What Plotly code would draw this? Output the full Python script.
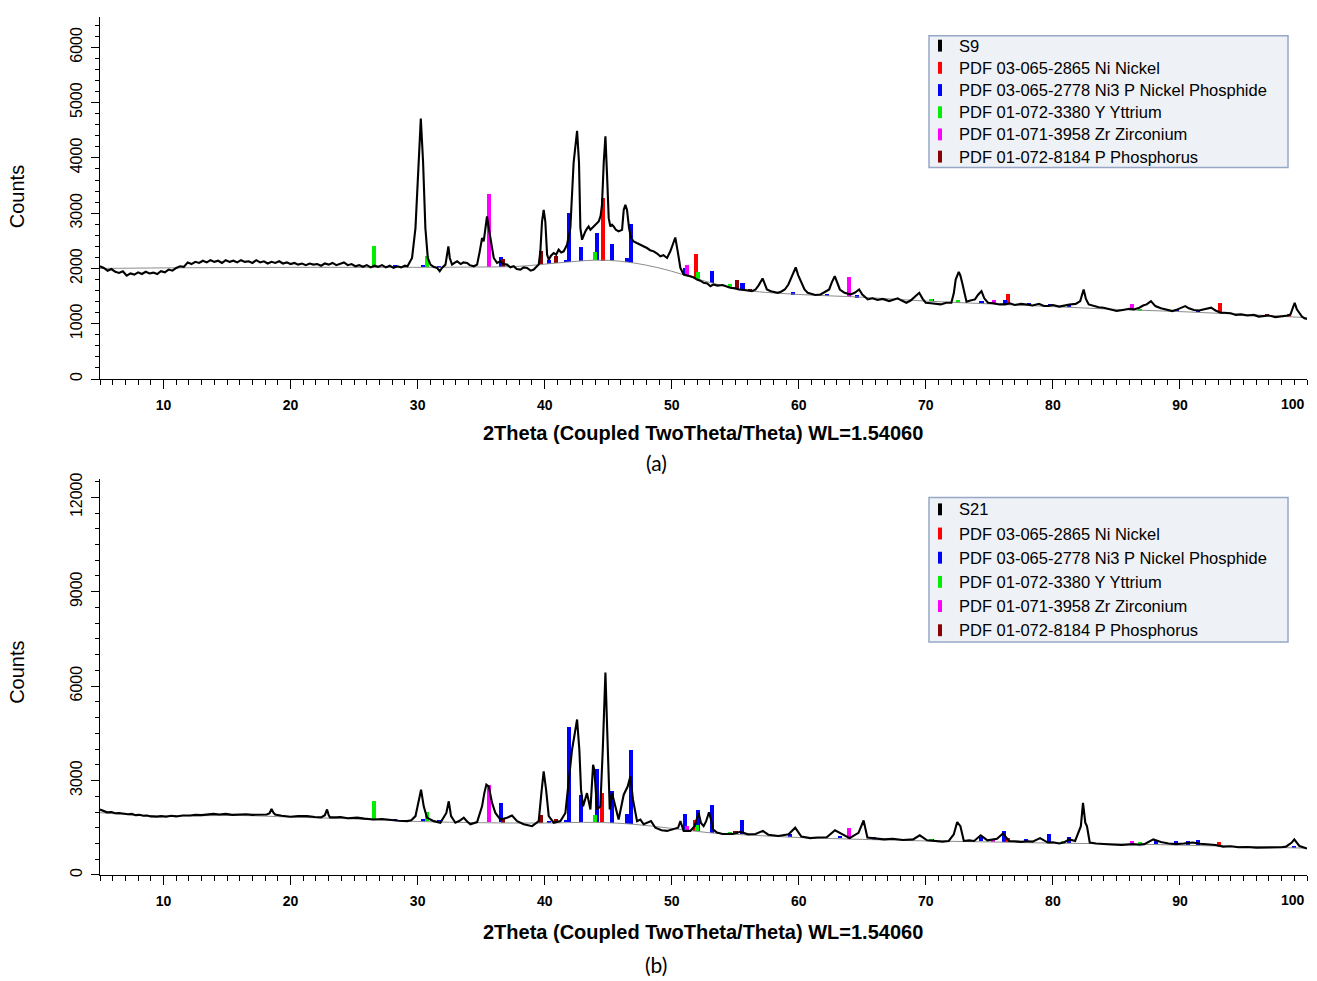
import numpy as np
import plotly.graph_objects as go

W, H = 1317, 981

# ---------------- DATA ----------------
# Panel (a) : S9 diffractogram (2theta, counts)
s9_tt = [5.0, 5.3, 5.6, 5.9, 6.2, 6.5, 6.8, 7.1, 7.4, 7.7, 8.0, 8.3, 8.6, 8.9, 9.2, 9.5, 9.8, 10.1, 10.4, 10.7,
         11.0, 11.3, 11.6, 11.9, 12.2, 12.5, 12.8, 13.1, 13.4, 13.7, 14.0, 14.3, 14.6, 14.9, 15.2, 15.5, 15.8, 16.1,
         16.4, 16.7, 17.0, 17.3, 17.6, 17.9, 18.2, 18.5, 18.8, 19.1, 19.4, 19.7, 20.0, 20.3, 20.6, 20.9, 21.2, 21.5,
         21.8, 22.1, 22.4, 22.7, 23.0, 23.3, 23.6, 23.9, 24.2, 24.5, 24.8, 25.1, 25.4, 25.7, 26.0, 26.3, 26.6, 26.9,
         27.2, 27.5, 27.8, 28.1, 28.4, 28.7, 29.0, 29.2, 29.56, 29.83, 30.09, 30.25, 30.43, 30.61, 30.80, 31.01,
         31.25, 31.53, 31.74, 31.95, 32.19, 32.32, 32.42, 32.53, 32.71, 32.9, 33.11, 33.4, 33.6, 33.89, 34.1, 34.42,
         34.68, 34.89, 35.07, 35.20, 35.36, 35.46, 35.60, 35.73, 35.86, 35.99, 36.25, 36.51, 36.75, 37.04, 37.3,
         37.56, 37.8, 38.09, 38.35, 38.61, 38.9, 39.14, 39.35, 39.53, 39.66, 39.79, 39.92, 40.05, 40.19, 40.32,
         40.5, 40.71, 40.9, 41.10, 41.3, 41.50, 41.76, 42.02, 42.28, 42.55, 42.70, 42.81, 42.94, 43.05, 43.20,
         43.33, 43.46, 43.6, 43.86, 44.05, 44.25, 44.40, 44.51, 44.65, 44.78, 44.91, 45.04, 45.17, 45.3, 45.43,
         45.6, 45.82, 46.09, 46.22, 46.35, 46.48, 46.64, 46.80, 47.00, 47.25, 47.53, 47.8, 48.05, 48.3, 48.58,
         48.85, 49.10, 49.35, 49.63, 49.89, 50.06, 50.15, 50.28, 50.47, 50.68, 50.94, 51.2, 51.46, 51.7, 51.99,
         52.25, 52.51, 52.8, 53.04, 53.27, 53.6, 54.0, 54.28, 54.6, 55.0, 55.30, 55.7, 56.0, 56.31, 56.6, 56.85,
         57.15, 57.35, 57.49, 57.8, 58.05, 58.34, 58.6, 58.9, 59.18, 59.45, 59.76, 59.95, 60.19, 60.45, 60.70,
         61.0, 61.3, 61.71, 62.0, 62.39, 62.6, 62.83, 63.0, 63.23, 63.6, 64.08, 64.4, 64.75, 65.0, 65.43, 65.8,
         66.2, 66.6, 67.12, 67.5, 67.79, 68.1, 68.47, 68.8, 69.1, 69.48, 69.75, 69.99, 70.4, 70.8, 71.17, 71.6,
         72.01, 72.2, 72.35, 72.59, 72.72, 72.86, 73.02, 73.20, 73.5, 73.87, 74.1, 74.38, 74.6, 74.89, 75.3,
         75.8, 76.24, 76.6, 77.0, 77.5, 77.93, 78.4, 78.9, 79.3, 79.61, 80.0, 80.5, 81.0, 81.30, 81.8, 82.15,
         82.42, 82.6, 82.82, 83.2, 83.6, 84.00, 84.5, 85.02, 85.5, 86.0, 86.37, 86.8, 87.1, 87.38, 87.72, 88.06,
         88.5, 89.0, 89.41, 89.8, 90.1, 90.42, 90.7, 91.10, 91.5, 92.0, 92.45, 92.8, 93.2, 93.46, 94.0, 94.4,
         94.81, 95.3, 95.8, 96.2, 96.50, 97.0, 97.5, 98.0, 98.19, 98.50, 98.70, 98.85, 99.03, 99.2, 99.37, 99.6,
         99.8, 100.0]
s9_counts = [2040, 2010, 1960, 1990, 1940, 1920, 1950, 1870, 1910, 1890, 1930, 1900, 1940, 1910, 1925, 1900, 1950,
             1930, 1980, 1960, 2010, 2040, 2030, 2110, 2080, 2120, 2100, 2140, 2110, 2150, 2120, 2140, 2100, 2150,
             2120, 2140, 2110, 2150, 2120, 2130, 2100, 2150, 2110, 2130, 2090, 2120, 2100, 2130, 2090, 2110, 2080,
             2100, 2070, 2090, 2060, 2090, 2070, 2080, 2050, 2090, 2070, 2100, 2060, 2090, 2110, 2060, 2080, 2040,
             2060, 2030, 2060, 2020, 2050, 2030, 2060, 2020, 2050, 2010, 2040, 2020, 2050, 2040, 2190, 2730, 3920,
             4710, 3920, 2730, 2190, 2070, 2030, 2010, 1950, 2020, 2070, 2250, 2400, 2190, 2070, 2100, 2130, 2080,
             2110, 2100, 2060, 2040, 2070, 2310, 2550, 2490, 2730, 2940, 2730, 2550, 2370, 2190, 2100, 2130, 2080,
             2070, 2020, 2040, 1990, 1980, 2020, 2010, 1960, 1980, 2030, 2070, 2310, 2850, 3060, 2850, 2250, 2160,
             2230, 2280, 2250, 2340, 2290, 2310, 2430, 2730, 3920, 4490, 3920, 2730, 2520, 2600, 2670, 2720, 2760,
             2700, 2760, 2790, 2850, 2950, 3150, 3920, 4390, 3680, 2910, 2760, 2790, 2760, 2700, 2670, 2700, 3060,
             3150, 3060, 2730, 2550, 2490, 2460, 2430, 2400, 2370, 2330, 2310, 2270, 2220, 2240, 2190, 2310, 2430,
             2490, 2560, 2310, 2010, 1890, 1880, 1860, 1840, 1800, 1780, 1740, 1730, 1680, 1710, 1690, 1700, 1680,
             1650, 1640, 1620, 1610, 1600, 1590, 1620, 1700, 1820, 1700, 1620, 1590, 1570, 1560, 1580, 1620, 1710,
             1850, 2020, 1880, 1740, 1620, 1560, 1540, 1520, 1530, 1570, 1620, 1750, 1860, 1760, 1620, 1560, 1530,
             1560, 1620, 1530, 1440, 1460, 1430, 1450, 1410, 1440, 1460, 1420, 1380, 1420, 1480, 1560, 1450, 1380,
             1370, 1360, 1350, 1380, 1380, 1550, 1800, 1940, 1870, 1740, 1550, 1400, 1420, 1440, 1520, 1590, 1460,
             1380, 1370, 1350, 1350, 1370, 1340, 1360, 1350, 1330, 1360, 1320, 1320, 1340, 1310, 1340, 1350, 1360,
             1410, 1620, 1450, 1350, 1320, 1300, 1290, 1260, 1230, 1250, 1270, 1260, 1290, 1330, 1350, 1410, 1320,
             1280, 1250, 1230, 1260, 1290, 1320, 1280, 1250, 1240, 1260, 1290, 1240, 1200, 1200, 1190, 1160, 1170,
             1150, 1160, 1130, 1140, 1150, 1120, 1130, 1140, 1150, 1170, 1280, 1380, 1260, 1200, 1130, 1100, 1085]
s9_bg_tt = [5, 10, 20, 28, 34, 38, 41, 44, 46, 48, 50, 52, 54, 56, 60, 65, 70, 75, 80, 85, 90, 95, 100]
s9_bg_counts = [2000, 2010, 2020, 2020, 2025, 2040, 2100, 2150, 2130, 2060, 1950, 1810, 1690, 1600, 1530, 1480,
                1410, 1360, 1310, 1260, 1220, 1170, 1110]

# Panel (b) : S21 diffractogram
s21_tt = [5.0, 5.3, 5.56, 5.9, 6.2, 6.5, 6.87, 7.2, 7.5, 7.8, 8.1, 8.4, 8.7, 9.0, 9.5, 9.8, 10.2, 10.6, 11.0, 11.5,
          12.1, 12.5, 13.0, 13.5, 13.93, 14.4, 14.9, 15.4, 16.03, 16.5, 17.0, 17.6, 18.13, 18.35, 18.5, 18.65,
          18.78, 19.3, 19.99, 20.6, 21.3, 21.9, 22.4, 22.7, 22.87, 23.0, 23.1, 23.6, 23.93, 24.5, 25.24, 25.8,
          26.55, 27.2, 27.86, 28.5, 29.17, 29.5, 29.83, 30.09, 30.27, 30.48, 30.74, 31.27, 31.79, 32.26, 32.45,
          32.63, 32.97, 33.3, 33.63, 33.9, 34.15, 34.68, 35.07, 35.25, 35.41, 35.60, 35.86, 36.12, 36.51, 37.04,
          37.43, 37.83, 38.35, 39.01, 39.53, 39.74, 39.92, 40.11, 40.32, 40.71, 41.24, 41.63, 41.89, 42.15, 42.55,
          42.73, 42.86, 43.02, 43.33, 43.60, 43.81, 43.91, 44.12, 44.38, 44.57, 44.78, 44.93, 45.12, 45.30, 45.48,
          45.82, 46.22, 46.53, 46.74, 46.95, 47.27, 47.53, 47.79, 48.37, 48.71, 49.2, 49.63, 50.15, 50.5, 50.68,
          50.94, 51.46, 51.8, 52.12, 52.30, 52.51, 52.70, 52.93, 53.1, 53.25, 53.56, 54.0, 54.35, 54.8, 55.40,
          56.0, 56.6, 57.17, 57.6, 58.4, 59.2, 59.72, 60.2, 60.9, 61.5, 62.2, 62.85, 63.4, 64.0, 64.7, 65.1, 65.4,
          66.0, 66.7, 67.4, 68.2, 69.0, 69.52, 70.1, 70.7, 71.3, 71.8, 72.2, 72.47, 72.72, 72.99, 73.4, 73.8,
          74.32, 74.85, 75.2, 75.6, 76.07, 76.55, 77.0, 77.5, 78.0, 78.4, 78.99, 79.6, 80.0, 80.5, 80.9, 81.3,
          81.75, 82.2, 82.37, 82.55, 82.68, 82.9, 83.4, 83.9, 84.6, 85.4, 85.9, 86.3, 86.8, 87.2, 87.9, 88.5,
          89.1, 89.7, 90.3, 91.0, 91.6, 92.2, 92.8, 93.4, 94.0, 94.6, 95.3, 96.0, 96.8, 97.5, 98.0, 98.35, 98.8,
          99.0, 99.4, 99.7, 100.0]
s21_counts = [2080, 2040, 1990, 2000, 1960, 1970, 1950, 1930, 1940, 1900, 1910, 1880, 1890, 1860, 1850, 1870, 1850,
              1880, 1860, 1890, 1890, 1910, 1900, 1930, 1940, 1920, 1940, 1910, 1920, 1930, 1910, 1920, 1920, 1960,
              2100, 1980, 1920, 1880, 1850, 1870, 1870, 1840, 1830, 1900, 2080, 1900, 1830, 1830, 1840, 1800, 1820,
              1790, 1760, 1780, 1740, 1720, 1710, 1740, 1870, 2390, 2710, 2180, 1820, 1710, 1660, 1970, 2340, 1870,
              1660, 1720, 1820, 1700, 1610, 1680, 2180, 2600, 2870, 2810, 2290, 1970, 1760, 1820, 1890, 1710, 1610,
              1550, 1710, 2600, 3290, 2710, 1870, 1660, 1710, 1970, 2920, 3970, 4940, 3970, 2710, 2180, 2600, 2080,
              3500, 3340, 2080, 2180, 3970, 6430, 4490, 2080, 2600, 2290, 1760, 2550, 2810, 3130, 2390, 1710, 1760,
              1610, 1710, 1500, 1420, 1400, 1450, 1500, 1710, 1400, 1400, 1550, 1970, 1650, 1550, 1700, 1990, 1750,
              1450, 1350, 1300, 1310, 1300, 1370, 1290, 1300, 1400, 1280, 1240, 1290, 1500, 1220, 1170, 1190, 1200,
              1420, 1290, 1170, 1340, 1730, 1190, 1160, 1130, 1150, 1110, 1130, 1260, 1100, 1090, 1060, 1080, 1290,
              1680, 1550, 1080, 1100, 1080, 1260, 1100, 1120, 1150, 1320, 1080, 1070, 1050, 1070, 1060, 1170, 1030,
              1040, 1000, 1040, 1130, 1080, 1550, 2290, 1660, 1550, 1030, 1000, 980, 970, 950, 970, 980, 960, 980,
              1130, 1050, 1000, 980, 1000, 1030, 990, 980, 950, 900, 910, 880, 890, 870, 870, 880, 880, 900, 1030,
              1130, 920, 880, 840]
s21_bg_tt = [5, 8, 12, 16, 20, 25, 30, 35, 40, 44, 47, 50, 53, 56, 60, 65, 70, 75, 80, 85, 90, 95, 100]
s21_bg_counts = [1980, 1900, 1880, 1890, 1840, 1780, 1700, 1660, 1650, 1670, 1610, 1480, 1340, 1270, 1190, 1130,
                 1080, 1050, 1010, 990, 950, 900, 850]

# Reference patterns (stick positions in 2theta and stick heights above background)
phase_names = ["PDF 03-065-2865 Ni Nickel", "PDF 03-065-2778 Ni3 P Nickel Phosphide",
               "PDF 01-072-3380 Y Yttrium", "PDF 01-071-3958 Zr Zirconium", "PDF 01-072-8184 P Phosphorus"]
phase_colors = ["#ff0000", "#0000ff", "#00ee00", "#ff00ff", "#8b0000"]

a_ni_tt = [44.57, 51.91, 76.47, 93.12, 98.6]
a_ni_h = [1130, 450, 190, 180, 50]
a_ni3p_tt = [28.25, 30.43, 31.71, 36.54, 40.32, 41.68, 41.94, 42.89, 44.15, 45.33, 46.51, 46.80, 51.02, 52.09,
             53.17, 55.57, 59.52, 62.22, 64.58, 70.50, 74.38, 76.24, 78.1, 79.78, 81.3, 89.75, 91.43]
a_ni3p_h = [40, 40, 30, 170, 70, 40, 890, 260, 500, 300, 80, 700, 140, 130, 225, 120, 30, 30, 30, 40, 40, 90, 40,
            40, 40, 40, 40]
a_y_tt = [26.55, 30.74, 43.99, 52.04, 54.55, 70.4, 72.52, 80.8, 86.87]
a_y_h = [390, 200, 145, 130, 50, 40, 40, 40, 30]
a_zr_tt = [35.65, 51.20, 63.98, 75.39, 86.2]
a_zr_h = [1320, 190, 350, 70, 100]
a_p_tt = [36.72, 39.71, 40.92, 55.13, 56.14, 96.84]
a_p_h = [140, 245, 130, 150, 40, 30]

b_ni_tt = [44.54, 51.86, 76.44, 93.06]
b_ni_h = [940, 340, 130, 120]
b_ni3p_tt = [28.25, 30.43, 31.7, 36.57, 40.34, 41.65, 41.94, 42.89, 44.15, 45.33, 46.51, 46.80, 51.02, 52.1, 53.17,
             55.54, 59.32, 63.22, 65.93, 67.15, 70.45, 74.37, 76.16, 77.85, 79.69, 81.29, 88.14, 89.68, 90.67,
             91.43, 98.96]
b_ni3p_h = [50, 60, 40, 620, 60, 70, 3020, 870, 1700, 1000, 300, 2340, 500, 670, 880, 460, 100, 70, 60, 60, 50, 150,
            350, 100, 280, 190, 130, 120, 120, 150, 50]
b_y_tt = [26.55, 30.74, 43.93, 52.0, 54.55, 70.38, 80.83, 86.82]
b_y_h = [600, 290, 210, 200, 60, 50, 60, 50]
b_zr_tt = [35.65, 51.20, 63.93, 75.3, 86.21]
b_zr_h = [1200, 120, 350, 100, 100]
b_p_tt = [36.72, 39.71, 40.92, 55.02]
b_p_h = [140, 230, 100, 80]

x_ticks = [10, 20, 30, 40, 50, 60, 70, 80, 90]
a_y_ticks = [0, 1000, 2000, 3000, 4000, 5000, 6000]
b_y_ticks = [0, 3000, 6000, 9000, 12000]
x_title = "2Theta (Coupled TwoTheta/Theta) WL=1.54060"

# ---------------- FIGURE ----------------
def px(x):
    return x / W

def py(y):
    return 1 - y / H

fig = go.Figure()

panels = [
    dict(xa="x", ya="y", tt=s9_tt, c=s9_counts, bgt=s9_bg_tt, bgc=s9_bg_counts, name="S9",
         sticks=[(a_ni_tt, a_ni_h), (a_ni3p_tt, a_ni3p_h), (a_y_tt, a_y_h), (a_zr_tt, a_zr_h), (a_p_tt, a_p_h)]),
    dict(xa="x2", ya="y2", tt=s21_tt, c=s21_counts, bgt=s21_bg_tt, bgc=s21_bg_counts, name="S21",
         sticks=[(b_ni_tt, b_ni_h), (b_ni3p_tt, b_ni3p_h), (b_y_tt, b_y_h), (b_zr_tt, b_zr_h), (b_p_tt, b_p_h)]),
]

for p in panels:
    fig.add_trace(go.Scatter(x=p["bgt"], y=p["bgc"], mode="lines", line=dict(color="#8c8c8c", width=1, shape="spline"),
                             xaxis=p["xa"], yaxis=p["ya"], showlegend=False, hoverinfo="skip"))
    fig.add_trace(go.Scatter(x=p["tt"], y=p["c"], mode="lines", line=dict(color="black", width=2.1),
                             xaxis=p["xa"], yaxis=p["ya"], showlegend=False))
    for (tt, hh), col in zip(p["sticks"], phase_colors):
        base = np.interp(tt, p["bgt"], p["bgc"])
        fig.add_trace(go.Bar(x=tt, y=hh, base=base, width=0.32, marker=dict(color=col, line=dict(width=0)),
                             xaxis=p["xa"], yaxis=p["ya"], showlegend=False))

tick_font = dict(family="Liberation Sans, Arial, sans-serif", size=14, color="black", weight="bold")
ytick_font = dict(family="Liberation Sans, Arial, sans-serif", size=16, color="black")
xcommon = dict(range=[5, 100], tickvals=x_ticks, ticks="outside", ticklen=9, tickcolor="black", tickwidth=1,
               showline=True, linecolor="black", linewidth=1, showgrid=False, zeroline=False,
               tickfont=tick_font, ticklabelstandoff=4,
               minor=dict(dtick=1, tick0=0, ticks="outside", ticklen=5, tickcolor="black", tickwidth=1, showgrid=False))
ycommon = dict(ticks="outside", ticklen=8, tickcolor="black", tickwidth=1, tickangle=-90, tickformat="d",
               showline=True, linecolor="black", linewidth=1, showgrid=False, zeroline=False, tickfont=ytick_font,
               ticklabelstandoff=3)

fig.update_layout(
    width=W, height=H, margin=dict(l=0, r=0, t=0, b=0),
    paper_bgcolor="white", plot_bgcolor="white", barmode="overlay", bargap=0,
    xaxis=dict(domain=[px(100), px(1307)], anchor="y", **xcommon),
    yaxis=dict(domain=[py(375.5), py(10)], anchor="x", range=[0, 6550], tickvals=a_y_ticks,
               minor=dict(dtick=200, ticks="outside", ticklen=4, tickcolor="black", showgrid=False), **ycommon),
    xaxis2=dict(domain=[px(100), px(1307)], anchor="y2", **xcommon),
    yaxis2=dict(domain=[py(876), py(476.7)], anchor="x2", range=[0, 12570], tickvals=b_y_ticks,
                minor=dict(dtick=500, ticks="outside", ticklen=4, tickcolor="black", showgrid=False), **ycommon),
    showlegend=False,
)

ann = []
shapes = []
for i, (ax, ya_name, title_y, counts_y, cap_y, cap, leg_top, leg_bot, row_y, row_dy) in enumerate([
        ("x", "y", 430, 192, 460, "(a)", 29, 162, 39, 22.4),
        ("x2", "y2", 934, 672, 966, "(b)", 495, 641, 507, 24.4)]):
    # "100" tick label kept inside the figure
    ann.append(dict(x=100, y=0, xref=ax, yref=ya_name, text="100", showarrow=False, xanchor="right",
                    yanchor="top", yshift=-15, font=tick_font))
    ann.append(dict(x=px(703), y=py(title_y), xref="paper", yref="paper", text=x_title, showarrow=False,
                    xanchor="center", yanchor="middle",
                    font=dict(family="Liberation Sans, Arial, sans-serif", size=20, color="black", weight="bold")))
    ann.append(dict(x=px(17), y=py(counts_y), xref="paper", yref="paper", text="Counts", showarrow=False,
                    textangle=-90, xanchor="center", yanchor="middle",
                    font=dict(family="Liberation Sans, Arial, sans-serif", size=20, color="black")))
    ann.append(dict(x=px(656), y=py(cap_y), xref="paper", yref="paper", text=cap, showarrow=False,
                    xanchor="center", yanchor="middle",
                    font=dict(family="Lato, Calibri, sans-serif", size=21, color="black")))
    # legend box
    shapes.append(dict(type="rect", xref="paper", yref="paper", x0=px(929), x1=px(1288), y0=py(leg_bot),
                       y1=py(leg_top), fillcolor="#eef1f6", line=dict(color="#97a8c6", width=1.5), layer="above"))
    names = [panels[i]["name"]] + phase_names
    colors = ["black"] + phase_colors
    for k, (nm, col) in enumerate(zip(names, colors)):
        yc = row_y + k * row_dy
        shapes.append(dict(type="rect", xref="paper", yref="paper", x0=px(938), x1=px(942), y0=py(yc + 6),
                           y1=py(yc - 6), fillcolor=col, line=dict(width=0), layer="above"))
        ann.append(dict(x=px(957), y=py(yc), xref="paper", yref="paper", text=nm, showarrow=False,
                        xanchor="left", yanchor="middle",
                        font=dict(family="Liberation Sans, Arial, sans-serif", size=16.5, color="black")))

fig.update_layout(annotations=ann, shapes=shapes)
fig.write_html("out.html", config={"displayModeBar": False},
               post_script="document.body.style.margin='0px';document.body.style.padding='0px';")
